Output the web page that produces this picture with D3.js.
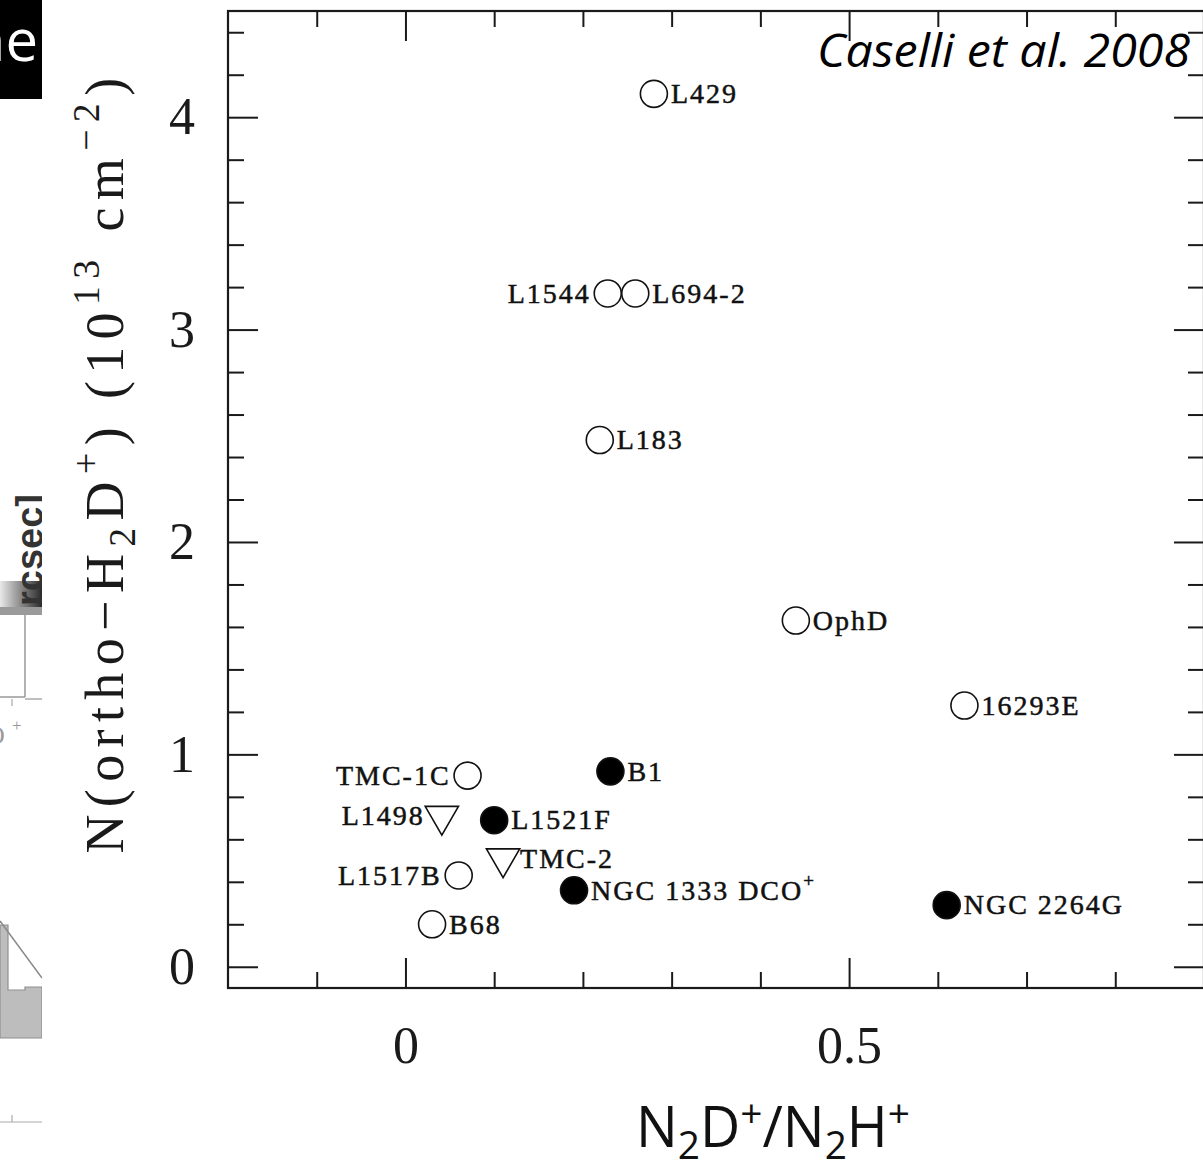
<!DOCTYPE html>
<html>
<head>
<meta charset="utf-8">
<script src="https://cdn.jsdelivr.net/npm/d3@7"></script>
<style>
body { margin: 0; background: #fff; }
svg { display: block; }
</style>
</head>
<body>
<script>
var svg_width  = 1203;
var svg_height = 1169;

//DATA: prestellar / protostellar cores (Caselli et al. 2008)
var sources    = ["L429", "L1544", "L694-2", "L183", "OphD", "16293E", "B1", "TMC-1C",
                  "L1498", "L1521F", "TMC-2", "L1517B", "NGC 1333 DCO+", "NGC 2264G", "B68"];
var deutRatio  = [0.280, 0.228, 0.259, 0.219, 0.440, 0.630, 0.231, 0.070,
                  0.041, 0.100, 0.110, 0.060, 0.190, 0.610, 0.030];
var orthoH2D   = [4.11, 3.17, 3.17, 2.48, 1.63, 1.23, 0.92, 0.90,
                  0.71, 0.69, 0.51, 0.43, 0.36, 0.29, 0.20];
// open = starless core, filled = protostellar, limit = upper limit (triangle)
var markerType = ["open", "open", "open", "open", "open", "open", "filled", "open",
                  "limit", "filled", "limit", "open", "filled", "filled", "open"];
var labelSide  = ["right", "left", "right", "right", "right", "right", "right", "left",
                  "left", "right", "right", "left", "right", "right", "right"];

//tick values
var xTicksMajor  = [0, 0.5];
var xTickLabels  = ["0", "0.5"];
var xTicksMinor  = [-0.1, 0.1, 0.2, 0.3, 0.4, 0.6, 0.7, 0.8];
var yTicksMajor  = [0, 1, 2, 3, 4];
var yTickLabels  = ["0", "1", "2", "3", "4"];
var yTicksMinor  = [0.2, 0.4, 0.6, 0.8, 1.2, 1.4, 1.6, 1.8, 2.2, 2.4, 2.6, 2.8,
                    3.2, 3.4, 3.6, 3.8, 4.2, 4.4];

var svg = d3.select('body').append('svg')
            .attr('width', svg_width)
            .attr('height', svg_height);

//frame of the plot (right edge sits at the slide border)
var frame = {left: 228, right: 1204, top: 11, bottom: 988};

var x = d3.scaleLinear().domain([-0.2, 0.9]).range([frame.left, frame.right]);
var y = d3.scaleLinear().domain([-0.1, 4.5]).range([frame.bottom, frame.top]);

var serif = "'Liberation Serif', 'DejaVu Serif', serif";
var narrow = "'Liberation Sans Narrow', 'Arial Narrow', 'Open Sans', sans-serif";

//---------- slide leftovers on the left edge ----------
var edge = svg.append("g");
svg.append("clipPath").attr("id", "edgeclip")
   .append("rect").attr("x", 0).attr("y", 0).attr("width", 42).attr("height", svg_height);
edge.attr("clip-path", "url(#edgeclip)");

edge.append("rect").attr("x", 0).attr("y", 0).attr("width", 42).attr("height", 99).attr("fill", "#000");
edge.append("text").attr("x", 38).attr("y", 61)
    .attr("text-anchor", "end").attr("fill", "#fff")
    .attr("font-family", "'Open Sans', sans-serif").attr("font-size", 58)
    .text("ne");

var grad = svg.append("defs").append("linearGradient").attr("id", "bargrad");
grad.append("stop").attr("offset", "0%").attr("stop-color", "#e8e8e8");
grad.append("stop").attr("offset", "100%").attr("stop-color", "#2a2a2a");
edge.append("rect").attr("x", 0).attr("y", 581).attr("width", 42).attr("height", 26).attr("fill", "url(#bargrad)");
edge.append("rect").attr("x", 0).attr("y", 607).attr("width", 42).attr("height", 8).attr("fill", "#9a9a9a");
edge.append("text")
    .attr("transform", "translate(43,606) rotate(-90)")
    .attr("font-family", "'Liberation Sans', sans-serif").attr("font-size", 38)
    .attr("font-weight", "bold")
    .attr("fill", "#333").text("rcsec]");
edge.append("line").attr("x1", 25).attr("x2", 25).attr("y1", 615).attr("y2", 697).attr("stroke", "#999").attr("stroke-width", 1.5);
edge.append("line").attr("x1", 0).attr("x2", 25).attr("y1", 697).attr("y2", 697).attr("stroke", "#999").attr("stroke-width", 1.5);
edge.append("line").attr("x1", 25).attr("x2", 42).attr("y1", 699).attr("y2", 699).attr("stroke", "#aaa").attr("stroke-width", 1.5);
edge.append("line").attr("x1", 12).attr("x2", 12).attr("y1", 699).attr("y2", 706).attr("stroke", "#aaa").attr("stroke-width", 1.2);
edge.append("text").attr("x", -14).attr("y", 744).attr("font-family", serif).attr("font-size", 26).attr("fill", "#999").text("O");
edge.append("text").attr("x", 12).attr("y", 731).attr("font-family", serif).attr("font-size", 17).attr("fill", "#999").text("+");
edge.append("path")
    .attr("d", "M0,925 L8,925 L8,990 L25,990 L25,987 L42,987 L42,1038 L0,1038 Z")
    .attr("fill", "#bdbdbd").attr("stroke", "#8f8f8f").attr("stroke-width", 1.2);
edge.append("line").attr("x1", 0).attr("x2", 42).attr("y1", 921).attr("y2", 978).attr("stroke", "#888").attr("stroke-width", 1.5);
edge.append("line").attr("x1", 0).attr("x2", 42).attr("y1", 1122).attr("y2", 1122).attr("stroke", "#aaa").attr("stroke-width", 1.2);
edge.append("line").attr("x1", 12).attr("x2", 12).attr("y1", 1115).attr("y2", 1122).attr("stroke", "#aaa").attr("stroke-width", 1.2);

//---------- axes ----------
function styleAxis(g) {
    g.select(".domain").remove();
    g.attr("color", "#1a1a1a")
     .attr("font-family", serif)
     .attr("font-size", 52);
    g.selectAll(".tick line").attr("stroke-width", 2);
}

//bottom
svg.append("g").attr("transform", "translate(0," + frame.bottom + ")")
   .call(d3.axisBottom(x).tickValues(xTicksMajor).tickSize(-30).tickPadding(38)
           .tickFormat(function(d, i){ return xTickLabels[i]; }))
   .call(styleAxis);
svg.append("g").attr("transform", "translate(0," + frame.bottom + ")")
   .call(d3.axisBottom(x).tickValues(xTicksMinor).tickSize(-16).tickFormat(""))
   .call(styleAxis);
//top
svg.append("g").attr("transform", "translate(0," + frame.top + ")")
   .call(d3.axisTop(x).tickValues(xTicksMajor).tickSize(-30).tickFormat(""))
   .call(styleAxis);
svg.append("g").attr("transform", "translate(0," + frame.top + ")")
   .call(d3.axisTop(x).tickValues(xTicksMinor).tickSize(-16).tickFormat(""))
   .call(styleAxis);
//left
svg.append("g").attr("transform", "translate(" + frame.left + ",0)")
   .call(d3.axisLeft(y).tickValues(yTicksMajor).tickSize(-30).tickPadding(33)
           .tickFormat(function(d, i){ return yTickLabels[i]; }))
   .call(styleAxis);
svg.append("g").attr("transform", "translate(" + frame.left + ",0)")
   .call(d3.axisLeft(y).tickValues(yTicksMinor).tickSize(-16).tickFormat(""))
   .call(styleAxis);
//right
svg.append("g").attr("transform", "translate(" + frame.right + ",0)")
   .call(d3.axisRight(y).tickValues(yTicksMajor).tickSize(-30).tickFormat(""))
   .call(styleAxis);
svg.append("g").attr("transform", "translate(" + frame.right + ",0)")
   .call(d3.axisRight(y).tickValues(yTicksMinor).tickSize(-16).tickFormat(""))
   .call(styleAxis);

svg.append("rect")
   .attr("x", frame.left).attr("y", frame.top)
   .attr("width", frame.right - frame.left).attr("height", frame.bottom - frame.top)
   .attr("fill", "none").attr("stroke", "#1a1a1a").attr("stroke-width", 2.2);

//pieces of text with sub/superscripts; dy is relative so keep track of the level
function addParts(textSel, list, shift) {
    var level = 0;
    list.forEach(function(p) {
        var want = p.sub ? shift.sub : (p.sup ? -shift.sup : 0);
        var ts = textSel.append("tspan").text(p.t);
        if (want !== level) ts.attr("dy", want - level);
        if (p.sub || p.sup) ts.attr("font-size", "0.7em");
        level = want;
    });
}

//---------- y axis title (stretched to the length seen in the figure) ----------
var yTitle = svg.append("text")
   .attr("transform", "translate(123,462) rotate(-90)")
   .attr("text-anchor", "middle")
   .attr("font-family", serif).attr("font-size", 54).attr("fill", "#1a1a1a");
addParts(yTitle, [
    {t: "N(ortho\u2212H"}, {t: "2", sub: true}, {t: "D"}, {t: "+", sup: true},
    {t: ") (10"}, {t: "13", sup: true}, {t: " cm"}, {t: "\u22122", sup: true}, {t: ")"}
], {sub: 12, sup: 24});
var target = 783;
var len = yTitle.node().getComputedTextLength();
var nChars = yTitle.text().length;
yTitle.attr("letter-spacing", ((target - len) / nChars) + "px");

//---------- x axis title and citation (slide text) ----------
var xTitle = svg.append("text")
   .attr("x", 773).attr("y", 1147)
   .attr("text-anchor", "middle")
   .attr("font-family", narrow)
   .attr("font-size", 56).attr("fill", "#111");
addParts(xTitle, [
    {t: "N"}, {t: "2", sub: true}, {t: "D"}, {t: "+", sup: true}, {t: "/N"},
    {t: "2", sub: true}, {t: "H"}, {t: "+", sup: true}
], {sub: 12, sup: 20});
xTitle.attr("textLength", 274).attr("lengthAdjust", "spacingAndGlyphs");

svg.append("text")
   .attr("x", 1190).attr("y", 67)
   .attr("text-anchor", "end")
   .attr("font-family", narrow)
   .attr("font-style", "italic").attr("font-size", 46).attr("fill", "#000")
   .attr("textLength", 373).attr("lengthAdjust", "spacingAndGlyphs")
   .text("Caselli et al. 2008");

//---------- points ----------
var points = sources.map(function(s, i) {
    return {name: s, x: deutRatio[i], y: orthoH2D[i], type: markerType[i], side: labelSide[i]};
});

svg.append("g").selectAll("circle")
   .data(points.filter(function(d){ return d.type !== "limit"; }))
   .enter().append("circle")
   .attr("cx", function(d){ return x(d.x); })
   .attr("cy", function(d){ return y(d.y); })
   .attr("r", 13.5)
   .attr("fill", function(d){ return d.type === "filled" ? "#000" : "none"; })
   .attr("stroke", "#111")
   .attr("stroke-width", 1.6);

svg.append("g").selectAll("path")
   .data(points.filter(function(d){ return d.type === "limit"; }))
   .enter().append("path")
   .attr("d", d3.symbol().type(d3.symbolTriangle).size(480))
   .attr("transform", function(d){ return "translate(" + x(d.x) + "," + y(d.y) + ") rotate(180)"; })
   .attr("fill", "none")
   .attr("stroke", "#111")
   .attr("stroke-width", 1.6);

var labels = svg.append("g").selectAll("text")
   .data(points)
   .enter().append("text")
   .attr("x", function(d){ return d.side === "right" ? x(d.x) + 17 : x(d.x) - 17; })
   .attr("y", function(d){ return y(d.y); })
   .attr("dy", "0.33em")
   .attr("text-anchor", function(d){ return d.side === "right" ? "start" : "end"; })
   .attr("font-family", serif)
   .attr("font-size", 28)
   .attr("letter-spacing", 2)
   .attr("fill", "#111")
   .attr("stroke", "#111")
   .attr("stroke-width", 0.5);

labels.each(function(d) {
    var t = d3.select(this);
    if (d.name.slice(-1) === "+") {
        t.append("tspan").text(d.name.slice(0, -1));
        t.append("tspan").attr("dy", -13).attr("font-size", 19).text("+");
    } else {
        t.text(d.name);
    }
});
</script>
</body>
</html>
